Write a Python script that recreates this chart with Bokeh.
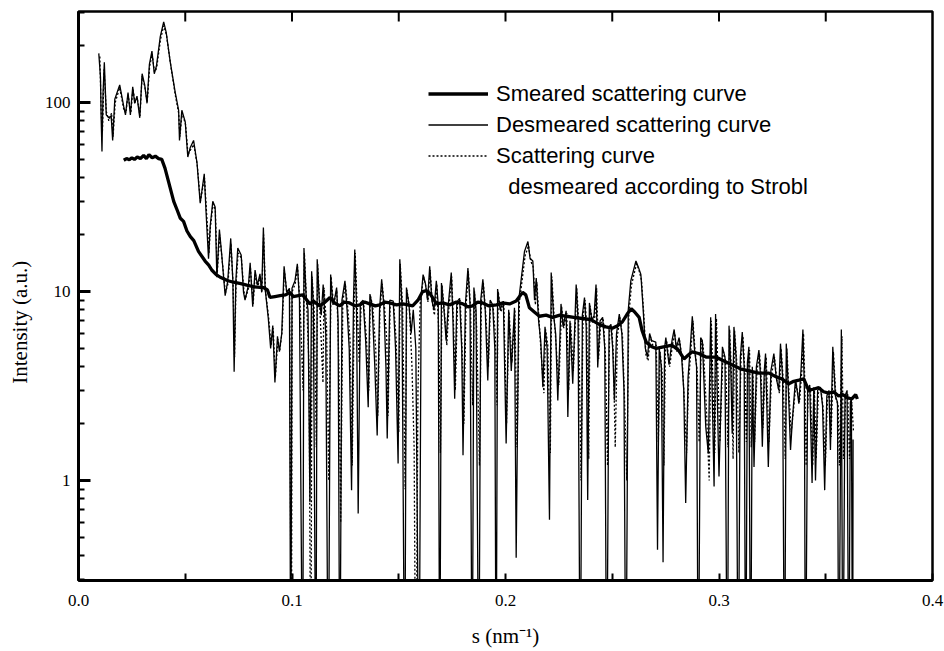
import math
from bokeh.plotting import figure
from bokeh.models import FixedTicker, Legend, LegendItem, Range1d
from bokeh.embed import file_html
from bokeh.resources import INLINE

# ---------------- data ----------------
smeared_s = [0.0212, 0.0225, 0.0238, 0.0250, 0.0262, 0.0275, 0.0290, 0.0305, 0.0318, 0.0330,
             0.0345, 0.0360, 0.0375, 0.0390, 0.0405, 0.0422, 0.0446, 0.0462, 0.0477, 0.0492,
             0.0508, 0.0524, 0.0540, 0.0562, 0.0593, 0.0610, 0.0624, 0.0645, 0.0664, 0.0700,
             0.0726, 0.0760, 0.0788, 0.0820, 0.0866, 0.0885, 0.0897, 0.0920, 0.0944, 0.0970,
             0.0990, 0.1005, 0.1050, 0.1084, 0.1100, 0.1130, 0.1155, 0.1178, 0.1200, 0.1224,
             0.1245, 0.1270, 0.1295, 0.1318, 0.1340, 0.1364, 0.1390, 0.1411, 0.1435, 0.1458,
             0.1490, 0.1519, 0.1545, 0.1565, 0.1590, 0.1612, 0.1630, 0.1645, 0.1677, 0.1705,
             0.1738, 0.1770, 0.1800, 0.1825, 0.1846, 0.1870, 0.1893, 0.1920, 0.1958, 0.1985,
             0.2019, 0.2050, 0.2080, 0.2095, 0.2112, 0.2135, 0.2159, 0.2190, 0.2220, 0.2255,
             0.2285, 0.2320, 0.2360, 0.2400, 0.2439, 0.2470, 0.2500, 0.2525, 0.2547, 0.2570,
             0.2589, 0.2605, 0.2626, 0.2640, 0.2659, 0.2685, 0.2706, 0.2740, 0.2780, 0.2810,
             0.2836, 0.2855, 0.2874, 0.2905, 0.2939, 0.2986, 0.3020, 0.3061, 0.3100, 0.3140,
             0.3187, 0.3234, 0.3265, 0.3294, 0.3327, 0.3350, 0.3374, 0.3397, 0.3420, 0.3445,
             0.3467, 0.3490, 0.3514, 0.3537, 0.3560, 0.3580, 0.3600, 0.3621, 0.3640, 0.3648]
smeared_i = [49.5, 50.5, 49.8, 51, 50, 51.5, 50.5, 52.5, 50.5, 53,
             51, 52, 50.5, 50, 45, 38, 30, 27, 24.4, 23.5,
             20.9, 19.5, 18.6, 16.3, 14.5, 13.8, 13.0, 12.3, 11.9, 11.4,
             11.2, 11.0, 10.8, 10.6, 10.5, 10.2, 9.3, 9.4, 9.5, 9.6,
             9.9, 9.4, 9.6, 8.6, 8.9, 8.4, 8.8, 9.3, 8.7, 8.4,
             8.8, 8.7, 8.4, 8.5, 8.8, 8.6, 8.4, 8.5, 8.8, 8.7,
             8.5, 8.6, 8.5, 8.4, 9.0, 10.0, 10.1, 9.8, 8.6, 8.7,
             8.5, 8.8, 8.6, 8.3, 8.4, 8.8, 8.7, 8.4, 8.5, 8.7,
             8.6, 8.9, 9.9, 9.6, 8.2, 7.8, 7.4, 7.5, 7.3, 7.5,
             7.4, 7.3, 7.2, 7.1, 6.7, 6.5, 6.4, 6.6, 6.9, 7.6,
             8.1, 7.8, 7.3, 6.2, 5.4, 5.1, 5.0, 5.1, 5.2, 4.9,
             4.4, 4.6, 4.8, 4.7, 4.5, 4.5, 4.3, 4.1, 3.9, 3.8,
             3.7, 3.7, 3.55, 3.45, 3.25, 3.35, 3.4, 3.45, 3.0, 3.05,
             3.1, 2.95, 2.9, 2.95, 2.8, 2.85, 2.75, 2.7, 2.85, 2.7]

desmeared_s = [0.0095, 0.0103, 0.0106, 0.0110, 0.0115, 0.0121, 0.0130, 0.0142, 0.0153, 0.0160,
               0.0170, 0.0193, 0.0212, 0.0220, 0.0232, 0.0243, 0.0254, 0.0263, 0.0274, 0.0287,
               0.0298, 0.0310, 0.0321, 0.0332, 0.0344, 0.0355, 0.0365, 0.0383, 0.0399, 0.0411,
               0.0430, 0.0453, 0.0469, 0.0473, 0.0484, 0.0500, 0.0512, 0.0523, 0.0539, 0.0555,
               0.0570, 0.0589, 0.0598, 0.0609, 0.0617, 0.0629, 0.0640, 0.0648, 0.0660, 0.0671,
               0.0687, 0.0699, 0.0713, 0.0723, 0.0729, 0.0737, 0.0746, 0.0762, 0.0773, 0.0780,
               0.0796, 0.0804, 0.0816, 0.0827, 0.0838, 0.0850, 0.0858, 0.0866, 0.0874, 0.0889,
               0.0900, 0.0910, 0.0920, 0.0932, 0.0941, 0.0952, 0.0963, 0.0975, 0.0988, 0.0994,
               0.1000, 0.1014, 0.1025, 0.1035, 0.1050, 0.1056, 0.1066, 0.1075, 0.1084, 0.1092,
               0.1100, 0.1112, 0.1118, 0.1128, 0.1137, 0.1146, 0.1158, 0.1170, 0.1181, 0.1192,
               0.1200, 0.1209, 0.1216, 0.1224, 0.1234, 0.1248, 0.1258, 0.1268, 0.1279, 0.1288,
               0.1294, 0.1302, 0.1310, 0.1320, 0.1333, 0.1345, 0.1357, 0.1365, 0.1375, 0.1388,
               0.1399, 0.1410, 0.1420, 0.1430, 0.1440, 0.1446, 0.1458, 0.1474, 0.1485, 0.1497,
               0.1505, 0.1515, 0.1528, 0.1536, 0.1548, 0.1558, 0.1568, 0.1580, 0.1595, 0.1605,
               0.1614, 0.1625, 0.1635, 0.1645, 0.1655, 0.1665, 0.1676, 0.1685, 0.1692, 0.1700,
               0.1712, 0.1722, 0.1732, 0.1746, 0.1754, 0.1762, 0.1772, 0.1785, 0.1795, 0.1801,
               0.1812, 0.1824, 0.1834, 0.1844, 0.1852, 0.1862, 0.1875, 0.1884, 0.1894, 0.1905,
               0.1917, 0.1928, 0.1940, 0.1950, 0.1956, 0.1963, 0.1975, 0.1990, 0.2003, 0.2015,
               0.2027, 0.2042, 0.2050, 0.2062, 0.2075, 0.2089, 0.2105, 0.2115, 0.2128, 0.2136,
               0.2144, 0.2155, 0.2165, 0.2175, 0.2185, 0.2195, 0.2206, 0.2214, 0.2225, 0.2235,
               0.2245, 0.2260, 0.2270, 0.2284, 0.2292, 0.2302, 0.2315, 0.2331, 0.2340, 0.2350,
               0.2360, 0.2370, 0.2378, 0.2385, 0.2393, 0.2405, 0.2415, 0.2424, 0.2432, 0.2443,
               0.2455, 0.2465, 0.2474, 0.2485, 0.2494, 0.2502, 0.2510, 0.2520, 0.2533, 0.2545,
               0.2555, 0.2564, 0.2575, 0.2587, 0.2600, 0.2611, 0.2622, 0.2634, 0.2645, 0.2655,
               0.2665, 0.2675, 0.2685, 0.2704, 0.2712, 0.2720, 0.2730, 0.2738, 0.2745, 0.2751,
               0.2766, 0.2780, 0.2790, 0.2800, 0.2813, 0.2825, 0.2835, 0.2844, 0.2855, 0.2865,
               0.2875, 0.2885, 0.2895, 0.2903, 0.2914, 0.2922, 0.2938, 0.2950, 0.2961, 0.2977,
               0.2984, 0.3000, 0.3016, 0.3028, 0.3039, 0.3047, 0.3055, 0.3062, 0.3070, 0.3080,
               0.3090, 0.3100, 0.3109, 0.3118, 0.3125, 0.3133, 0.3140, 0.3148, 0.3156, 0.3164,
               0.3175, 0.3187, 0.3195, 0.3203, 0.3212, 0.3218, 0.3231, 0.3243, 0.3257, 0.3268,
               0.3280, 0.3288, 0.3298, 0.3307, 0.3315, 0.3325, 0.3335, 0.3345, 0.3358, 0.3366,
               0.3374, 0.3385, 0.3393, 0.3400, 0.3405, 0.3415, 0.3425, 0.3436, 0.3444, 0.3452,
               0.3462, 0.3475, 0.3485, 0.3495, 0.3505, 0.3515, 0.3522, 0.3533, 0.3545, 0.3555,
               0.3561, 0.3573, 0.3580, 0.3590, 0.3600, 0.3608, 0.3615, 0.3620, 0.3626, 0.3628]
desmeared_i = [182, 136, 83, 55, 113, 163, 86, 83, 85, 63,
               104, 124, 95, 86, 113, 86, 121, 99, 108, 83,
               142, 124, 99, 159, 187, 142, 156, 223, 267, 234,
               163, 113, 91, 63, 91, 79, 51.5, 57.6, 63, 48,
               29.3, 42, 25.6, 14.9, 22.3, 30, 28, 11.9, 21.3, 15.6,
               9.5, 11.4, 19.1, 11.4, 3.76, 11.4, 17, 15.6, 9.9, 9.0,
               10.8, 14.2, 8.3, 13.0, 10.8, 12.4, 9.9, 21.8, 10.4, 7.2,
               5.0, 6.6, 3.3, 5.8, 4.8, 6.0, 13.6, 9.9, 10.4, 0.05,
               10.4, 11.4, 14.0, 9.0, 0.05, 17.0, 9.5, 8.0, 0.77, 12.8,
               8.5, 0.05, 14.8, 9.0, 7.5, 10.9, 6.0, 0.05, 12.3, 8.5,
               9.2, 10.5, 7.0, 0.05, 9.0, 11.4, 8.0, 5.0, 0.89, 9.0,
               16.7, 8.5, 0.67, 8.7, 9.0, 5.5, 2.44, 9.7, 8.5, 4.0,
               1.73, 8.0, 11.6, 8.5, 4.0, 1.67, 9.0, 8.9, 5.0, 1.23,
               14.8, 8.5, 0.05, 10.5, 8.5, 6.0, 8.0, 5.0, 0.05, 9.5,
               12.3, 11.0, 9.0, 13.6, 9.0, 8.0, 11.4, 8.5, 0.05, 11.1,
               8.0, 5.5, 8.5, 12.6, 7.0, 2.71, 8.8, 9.2, 5.0, 1.36,
               8.5, 13.3, 8.5, 0.05, 10.5, 8.0, 0.05, 9.0, 11.6, 8.0,
               3.38, 9.0, 8.5, 5.0, 0.05, 10.3, 8.0, 8.9, 1.57, 8.0,
               3.8, 8.2, 0.39, 9.0, 12.0, 16.3, 18.4, 15.0, 14.5, 9.0,
               11.8, 7.0, 5.5, 3.12, 6.5, 5.0, 0.62, 12.6, 7.5, 6.0,
               2.65, 8.6, 6.5, 7.9, 2.17, 7.0, 3.25, 10.9, 7.0, 0.05,
               7.5, 9.3, 6.5, 0.79, 8.7, 7.0, 7.5, 10.9, 3.97, 7.0,
               7.3, 5.0, 0.05, 6.5, 6.7, 5.0, 2.65, 6.0, 7.6, 6.0,
               3.0, 0.05, 8.0, 11.4, 13.0, 14.5, 13.5, 12.3, 8.0, 5.0,
               4.5, 6.0, 5.5, 5.4, 0.43, 5.0, 4.0, 0.37, 5.0, 5.7,
               4.1, 5.5, 6.3, 5.0, 5.7, 4.5, 3.0, 0.76, 3.5, 5.0,
               7.4, 5.0, 4.0, 0.05, 5.7, 5.5, 1.92, 1.39, 7.3, 0.93,
               7.6, 1.05, 5.1, 4.5, 0.05, 6.6, 4.0, 1.77, 6.5, 4.5,
               0.05, 4.5, 6.1, 4.0, 0.05, 4.2, 5.1, 0.05, 4.0, 1.18,
               4.0, 4.9, 3.5, 1.51, 3.8, 4.7, 1.18, 3.8, 4.7, 3.5,
               3.0, 5.3, 3.5, 0.05, 5.3, 3.0, 1.45, 2.2, 3.4, 3.0,
               2.55, 4.0, 6.3, 3.0, 0.05, 3.0, 3.2, 0.97, 3.12, 1.0,
               3.0, 3.12, 2.5, 0.89, 2.8, 3.0, 1.45, 5.1, 2.8, 2.6,
               0.05, 6.3, 0.05, 2.8, 3.0, 0.05, 2.6, 2.7, 0.05, 1.65]

strobl_s = [0.0100, 0.0106, 0.0112, 0.0120, 0.0130, 0.0142, 0.0155, 0.0162, 0.0172, 0.0193,
            0.0212, 0.0222, 0.0232, 0.0245, 0.0255, 0.0265, 0.0275, 0.0288, 0.0298, 0.0311,
            0.0322, 0.0333, 0.0345, 0.0356, 0.0366, 0.0384, 0.0399, 0.0412, 0.0431, 0.0453,
            0.0469, 0.0475, 0.0485, 0.0501, 0.0513, 0.0524, 0.0540, 0.0556, 0.0571, 0.0590,
            0.0600, 0.0611, 0.0618, 0.0630, 0.0641, 0.0650, 0.0661, 0.0672, 0.0688, 0.0700,
            0.0714, 0.0724, 0.0731, 0.0738, 0.0748, 0.0763, 0.0775, 0.0782, 0.0797, 0.0805,
            0.0818, 0.0828, 0.0839, 0.0851, 0.0859, 0.0867, 0.0876, 0.0890, 0.0902, 0.0912,
            0.0922, 0.0934, 0.0943, 0.0954, 0.0964, 0.0977, 0.0989, 0.0997, 0.1001, 0.1015,
            0.1026, 0.1038, 0.1052, 0.1058, 0.1068, 0.1080, 0.1088, 0.1094, 0.1104, 0.1114,
            0.1120, 0.1130, 0.1145, 0.1150, 0.1162, 0.1172, 0.1183, 0.1195, 0.1210, 0.1220,
            0.1228, 0.1238, 0.1250, 0.1262, 0.1272, 0.1282, 0.1292, 0.1296, 0.1305, 0.1315,
            0.1324, 0.1335, 0.1348, 0.1360, 0.1367, 0.1378, 0.1392, 0.1402, 0.1412, 0.1422,
            0.1433, 0.1444, 0.1450, 0.1460, 0.1476, 0.1488, 0.1500, 0.1507, 0.1518, 0.1530,
            0.1538, 0.1550, 0.1562, 0.1572, 0.1580, 0.1590, 0.1600, 0.1616, 0.1628, 0.1637,
            0.1647, 0.1657, 0.1667, 0.1678, 0.1688, 0.1695, 0.1703, 0.1714, 0.1725, 0.1735,
            0.1748, 0.1757, 0.1765, 0.1775, 0.1788, 0.1798, 0.1805, 0.1815, 0.1826, 0.1836,
            0.1846, 0.1855, 0.1865, 0.1878, 0.1887, 0.1896, 0.1908, 0.1920, 0.1930, 0.1942,
            0.1952, 0.1960, 0.1966, 0.1978, 0.1992, 0.2005, 0.2017, 0.2030, 0.2044, 0.2054,
            0.2065, 0.2078, 0.2092, 0.2108, 0.2118, 0.2130, 0.2140, 0.2147, 0.2158, 0.2168,
            0.2180, 0.2188, 0.2198, 0.2210, 0.2217, 0.2228, 0.2238, 0.2250, 0.2263, 0.2273,
            0.2287, 0.2296, 0.2305, 0.2318, 0.2334, 0.2343, 0.2354, 0.2363, 0.2373, 0.2381,
            0.2390, 0.2396, 0.2408, 0.2418, 0.2427, 0.2436, 0.2446, 0.2458, 0.2468, 0.2478,
            0.2488, 0.2497, 0.2505, 0.2514, 0.2524, 0.2536, 0.2548, 0.2560, 0.2568, 0.2578,
            0.2590, 0.2603, 0.2614, 0.2625, 0.2637, 0.2648, 0.2658, 0.2668, 0.2678, 0.2690,
            0.2706, 0.2716, 0.2724, 0.2734, 0.2742, 0.2749, 0.2755, 0.2769, 0.2783, 0.2793,
            0.2803, 0.2816, 0.2828, 0.2838, 0.2848, 0.2858, 0.2868, 0.2878, 0.2888, 0.2898,
            0.2907, 0.2917, 0.2926, 0.2941, 0.2954, 0.2964, 0.2980, 0.2988, 0.3004, 0.3019,
            0.3031, 0.3042, 0.3050, 0.3058, 0.3066, 0.3073, 0.3083, 0.3093, 0.3103, 0.3112,
            0.3121, 0.3128, 0.3136, 0.3143, 0.3151, 0.3159, 0.3167, 0.3178, 0.3190, 0.3198,
            0.3206, 0.3215, 0.3221, 0.3234, 0.3246, 0.3260, 0.3271, 0.3283, 0.3291, 0.3301,
            0.3310, 0.3318, 0.3328, 0.3338, 0.3348, 0.3361, 0.3369, 0.3377, 0.3388, 0.3396,
            0.3403, 0.3408, 0.3418, 0.3428, 0.3439, 0.3447, 0.3455, 0.3465, 0.3478, 0.3488,
            0.3498, 0.3508, 0.3518, 0.3525, 0.3536, 0.3548, 0.3558, 0.3564, 0.3576, 0.3583,
            0.3593, 0.3603, 0.3611, 0.3622, 0.3630]
strobl_i = [175, 90, 70, 150, 90, 80, 88, 66, 100, 120,
            92, 88, 110, 88, 118, 100, 106, 85, 138, 120,
            100, 155, 180, 145, 152, 215, 255, 228, 160, 110,
            88, 66, 88, 77, 53, 56, 60, 47, 30, 40,
            26, 16, 22, 29, 27, 12.5, 20, 15, 9.8, 11,
            18, 11, 4.5, 11, 16, 15, 10, 9.2, 10.5, 13.5,
            8.6, 12.5, 10.5, 12, 10, 20, 10, 7.4, 5.2, 6.4,
            3.5, 5.6, 4.9, 6.2, 13, 9.6, 10, 0.05, 10, 11,
            13.5, 8.5, 3.0, 16, 9, 4.0, 0.05, 12, 8.0, 1.5,
            14, 8.5, 3.3, 10.5, 6.5, 1.0, 12, 8.5, 10.2, 4.0,
            0.6, 8.8, 11, 8, 5.5, 1.2, 9, 16, 8.4, 4.2,
            8.6, 8.8, 5.8, 3.0, 9.5, 8.4, 5.0, 2.2, 8, 11,
            8.3, 5.5, 2.2, 8.8, 8.7, 5.5, 1.8, 14, 8.4, 0.9,
            10.2, 8.3, 4.0, 1.5, 0.05, 3.0, 8.5, 12, 10.5, 8.8,
            13, 8.8, 7.5, 11, 6.0, 1.4, 10.8, 7.8, 5.2, 8.2,
            12, 6.5, 3.0, 8.6, 9, 4.5, 2.0, 8.3, 12.8, 8.3,
            2.5, 10, 6.5, 1.2, 8.8, 11.2, 7.5, 4.0, 8.8, 8.3,
            6.0, 2.5, 10, 7.8, 8.6, 2.0, 7.8, 4.2, 8.0, 1.5,
            8.8, 11.5, 15.5, 17.5, 14.5, 13.5, 8.5, 11.2, 6.8, 4.5,
            2.9, 6.3, 5.2, 1.4, 12, 7.3, 5.0, 3.2, 8.3, 6.4,
            7.7, 3.0, 6.8, 3.8, 10.4, 6.8, 1.0, 7.3, 9.0, 6.3,
            1.3, 8.4, 6.8, 7.3, 10.4, 4.4, 6.8, 7.1, 4.6, 1.2,
            6.3, 6.5, 4.7, 1.5, 5.8, 7.3, 5.8, 2.2, 1.0, 7.6,
            10.8, 12.5, 14, 13, 11.5, 7.5, 4.6, 4.3, 5.8, 5.2,
            5.2, 1.6, 4.8, 3.7, 1.2, 4.8, 5.5, 4.0, 5.3, 6.0,
            4.8, 5.5, 4.3, 2.6, 1.4, 3.4, 4.8, 7.0, 4.8, 3.8,
            1.6, 5.5, 5.2, 2.4, 1.0, 7.0, 1.4, 7.2, 1.6, 4.9,
            4.3, 1.5, 6.3, 3.8, 1.3, 6.2, 4.3, 1.4, 4.3, 5.8,
            3.8, 1.6, 4.0, 4.9, 1.5, 3.8, 1.6, 3.8, 4.7, 3.4,
            1.9, 3.6, 4.5, 1.6, 3.6, 4.5, 3.4, 2.9, 5.0, 3.4,
            1.3, 5.0, 2.9, 1.8, 2.3, 3.3, 2.9, 2.6, 3.8, 6.0,
            2.9, 1.2, 2.9, 3.1, 1.2, 3.0, 1.3, 2.9, 3.0, 2.4,
            1.2, 2.7, 2.9, 1.7, 4.8, 2.7, 2.5, 1.2, 5.8, 1.3,
            2.7, 2.9, 1.3, 2.6, 1.8]

series_labels = ["Smeared scattering curve",
                 "Desmeared scattering curve",
                 "Scattering curve",
                 "\u00a0\u00a0desmeared according to Strobl"]

x_lo, x_hi = 0.0, 0.4
y_lo, y_hi = 0.296, 303
x_ticks = [0.0, 0.1, 0.2, 0.3, 0.4]
x_tick_labels = ["0.0", "0.1", "0.2", "0.3", "0.4"]
x_minor_ticks = [0.05, 0.15, 0.25, 0.35]
y_ticks = [1, 10, 100]
y_tick_labels = ["1", "10", "100"]
y_minor_ticks = [0.3, 0.4, 0.5, 0.6, 0.7, 0.8, 0.9,
                 2, 3, 4, 5, 6, 7, 8, 9,
                 20, 30, 40, 50, 60, 70, 80, 90, 200, 300]

assert len(smeared_s) == len(smeared_i)
assert len(desmeared_s) == len(desmeared_i)
assert len(strobl_s) == len(strobl_i)

# ---------------- layout / style ----------------
SERIF = "Liberation Serif"
SANS = "Liberation Sans"
W, H = 944, 651
BL, BR, BT, BB = 78, 12, 11, 71           # borders around the plot frame
FRAME_W, FRAME_H = W - BL - BR, H - BT - BB
dec_per_px = math.log10(y_hi / y_lo) / FRAME_H

p = figure(width=W, height=H, y_axis_type="log",
           x_range=Range1d(x_lo, x_hi), y_range=Range1d(y_lo, y_hi),
           output_backend="svg", toolbar_location=None,
           min_border_left=BL, min_border_right=BR,
           min_border_top=BT, min_border_bottom=BB)
p.grid.visible = False
p.background_fill_color = "white"
p.border_fill_color = "white"
p.outline_line_color = "black"
p.outline_line_width = 2.5

r_des = p.line(desmeared_s, desmeared_i, line_color="black", line_width=1.3)
r_str = p.line(strobl_s, strobl_i, line_color="black", line_width=1.3, line_dash="2 2")
r_sme = p.line(smeared_s, smeared_i, line_color="black", line_width=3.3)
r_blank = p.line(x=[], y=[], line_alpha=0)

# inward tick marks along the top edge (short segments at the tick positions)
xt_top = x_ticks[1:-1] + x_minor_ticks
top_len = 10 ** (10 * dec_per_px)
p.segment(x0=xt_top, y0=[y_hi] * len(xt_top), x1=xt_top, y1=[y_hi / top_len] * len(xt_top),
          line_color="black", line_width=2)

# x axis
xa = p.xaxis[0]
xa.ticker = FixedTicker(ticks=x_ticks, minor_ticks=x_minor_ticks)
xa.major_label_overrides = dict(zip(x_ticks, x_tick_labels))
xa.axis_label = "s (nm\u207b\u00b9)"
xa.major_label_standoff = 14
xa.axis_label_standoff = 15
xa.major_tick_in = 7
xa.minor_tick_in = 7
xa.major_tick_line_width = 2
xa.minor_tick_line_width = 2
# y axis
ya = p.yaxis[0]
ya.ticker = FixedTicker(ticks=y_ticks, minor_ticks=y_minor_ticks)
ya.major_label_overrides = dict(zip(y_ticks, y_tick_labels))
ya.axis_label = "Intensity (a.u.)" + "\u00a0" * 10
ya.major_label_standoff = 8
ya.axis_label_standoff = 10
ya.major_tick_in = 12
ya.minor_tick_in = 6
ya.major_tick_line_width = 3
ya.minor_tick_line_width = 2

for ax in (xa, ya):
    ax.axis_line_width = 3
    ax.axis_line_color = "black"
    ax.major_tick_line_color = "black"
    ax.minor_tick_line_color = "black"
    ax.major_tick_out = 0
    ax.minor_tick_out = 0
    ax.major_label_text_font = SERIF
    ax.major_label_text_font_size = "17px"
    ax.major_label_text_color = "black"
    ax.axis_label_text_font = SERIF
    ax.axis_label_text_font_size = "21px"
    ax.axis_label_text_font_style = "normal"
    ax.axis_label_text_color = "black"

legend = Legend(items=[LegendItem(label=series_labels[0], renderers=[r_sme]),
                       LegendItem(label=series_labels[1], renderers=[r_des]),
                       LegendItem(label=series_labels[2], renderers=[r_str]),
                       LegendItem(label=series_labels[3], renderers=[r_blank])],
                location=(350, 378), glyph_width=60, glyph_height=31, label_height=31,
                spacing=0, padding=0, margin=0, label_standoff=8,
                border_line_color=None, background_fill_alpha=0,
                label_text_font=SANS, label_text_font_size="22px", label_text_color="black")
p.add_layout(legend)

open("out.html", "w").write(file_html(p, INLINE))
